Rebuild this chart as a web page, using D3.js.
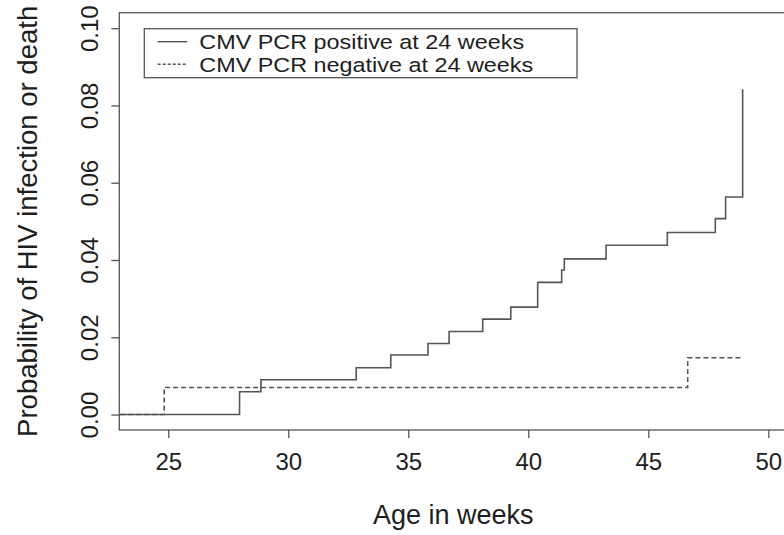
<!DOCTYPE html>
<html>
<head>
<meta charset="utf-8">
<script src="https://cdn.jsdelivr.net/npm/d3@7"></script>
<style>
  body { margin: 0; background: #fff; }
  text { font-family: "Liberation Sans", Arial, sans-serif; fill: #1e1e1e; }
</style>
</head>
<body>
<svg id="chart" width="784" height="535"></svg>
<script>
// Step data (age in weeks, cumulative probability)
const posTimes = [0, 27.97, 28.86, 32.83, 34.27, 35.82, 36.70, 38.10, 39.27, 40.39, 41.39, 41.50, 43.24, 45.79, 47.79, 48.22, 48.93];
const posProb  = [0, 0.0059, 0.0090, 0.0121, 0.0154, 0.0184, 0.0215, 0.0247, 0.0278, 0.0342, 0.0374, 0.0403, 0.0438, 0.0471, 0.0507, 0.0563, 0.0842];
const negTimes = [0, 24.83, 46.64, 48.93];
const negProb  = [0, 0.0070, 0.0147, 0.0147];

const xTicks = [25, 30, 35, 40, 45, 50];
const yTicks = [0, 0.02, 0.04, 0.06, 0.08, 0.10];
const legendLabels = ["CMV PCR positive at 24 weeks", "CMV PCR negative at 24 weeks"];

const svg = d3.select("#chart");
const ink = "#555";

// R-style 4% padded ranges: xlim 24..50, ylim 0..0.1
const x = d3.scaleLinear().domain([22.96, 51.04]).range([119.3, 793.3]);
const y = d3.scaleLinear().domain([-0.004, 0.104]).range([430, 12.7]);

svg.append("clipPath").attr("id", "plot-clip")
  .append("rect")
    .attr("x", x.range()[0]).attr("y", y.range()[1])
    .attr("width", x.range()[1] - x.range()[0])
    .attr("height", y.range()[0] - y.range()[1]);

// Box round the plot
svg.append("rect")
  .attr("x", x.range()[0]).attr("y", y.range()[1])
  .attr("width", x.range()[1] - x.range()[0])
  .attr("height", y.range()[0] - y.range()[1])
  .attr("fill", "none").attr("stroke", ink).attr("stroke-width", 1.3);

// Axes
const xAxis = svg.append("g")
  .attr("transform", `translate(0,${y.range()[0]})`)
  .call(d3.axisBottom(x).tickValues(xTicks).tickSize(8).tickSizeOuter(0).tickPadding(0));
xAxis.select(".domain").remove();
xAxis.selectAll("line").attr("stroke", ink).attr("stroke-width", 1.3);
xAxis.selectAll("text")
  .attr("font-size", 24).attr("fill", "#1e1e1e")
  .attr("y", 39.5).attr("dy", 0);

const yAxis = svg.append("g")
  .attr("transform", `translate(${x.range()[0]},0)`)
  .call(d3.axisLeft(y).tickValues(yTicks).tickSize(8).tickSizeOuter(0).tickFormat(d3.format(".2f")));
yAxis.select(".domain").remove();
yAxis.selectAll("line").attr("stroke", ink).attr("stroke-width", 1.3);
yAxis.selectAll("text")
  .attr("font-size", 24).attr("fill", "#1e1e1e")
  .attr("transform", "rotate(-90)")
  .attr("text-anchor", "middle")
  .attr("x", 0).attr("y", -21).attr("dy", 0);

// Axis titles
svg.append("text")
  .attr("x", (x.range()[0] + x.range()[1]) / 2 - 3).attr("y", 524)
  .attr("text-anchor", "middle").attr("font-size", 27)
  .text("Age in weeks");

svg.append("text")
  .attr("transform", `translate(37,${(y.range()[0] + y.range()[1]) / 2}) rotate(-90)`)
  .attr("text-anchor", "middle").attr("font-size", 27.5)
  .text("Probability of HIV infection or death");

// Step curves
const line = d3.line()
  .x(d => x(d[0]))
  .y(d => y(d[1]))
  .curve(d3.curveStepAfter);

const plotG = svg.append("g").attr("clip-path", "url(#plot-clip)");

plotG.append("path")
  .datum(d3.zip(negTimes, negProb))
  .attr("d", line)
  .attr("fill", "none").attr("stroke", "#555").attr("stroke-width", 1.6)
  .attr("stroke-dasharray", "5,3");

plotG.append("path")
  .datum(d3.zip(posTimes, posProb))
  .attr("d", line)
  .attr("fill", "none").attr("stroke", "#555").attr("stroke-width", 1.6);

// Legend
const legend = svg.append("g");
legend.append("rect")
  .attr("x", 144.3).attr("y", 28.7).attr("width", 432.7).attr("height", 49)
  .attr("fill", "#fff").attr("stroke", ink).attr("stroke-width", 1.3);

const rows = legend.selectAll(".row").data(legendLabels)
  .enter().append("g")
    .attr("class", "row")
    .attr("transform", (d, i) => `translate(0,${41.7 + i * 22.6})`);
rows.append("line")
  .attr("x1", 157.7).attr("x2", 187.3)
  .attr("stroke", "#555").attr("stroke-width", 1.4)
  .attr("stroke-dasharray", (d, i) => i === 0 ? null : "3,2");
// legend type in the source is a touch wider than Liberation Sans
rows.append("text")
  .attr("transform", "translate(199.3,7.5) scale(1.2,1)")
  .attr("font-size", 19.5)
  .text(d => d);
</script>
</body>
</html>
